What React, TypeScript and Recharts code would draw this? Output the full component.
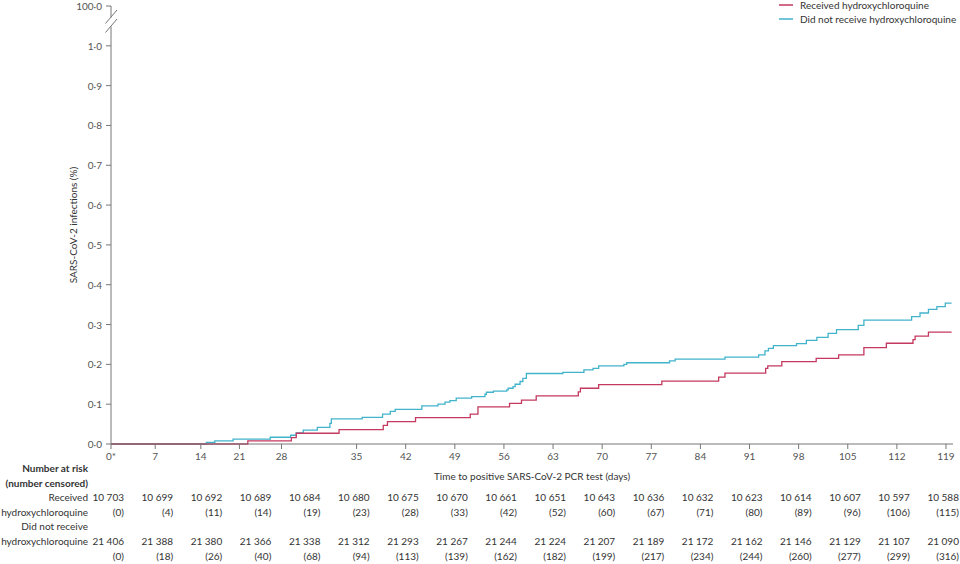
import { LineChart, Line, XAxis, YAxis, Legend } from "recharts";

const FONT = "Lato, 'DejaVu Sans', sans-serif";
const TEXT = "#333";
const AXIS = "#777";

const seriesNames = ["Received hydroxychloroquine", "Did not receive hydroxychloroquine"];
const seriesColors = ["#c4395f", "#41b3cb"];

// Kaplan-Meier steps: day of event, cumulative infections (%)
const receivedDays = [0, 19.5, 25.7, 26.4, 32.5, 38.8, 39.4, 43.4, 51.2, 52.3, 56.8, 58.5, 60.6, 66.6, 66.9, 69.5, 78.5, 86.6, 87.5, 93.3, 93.6, 95.6, 100.5, 103.7, 107.3, 110.5, 114.3, 114.6, 116.5, 119.8];
const receivedPct = [0, 0.008, 0.016, 0.027, 0.036, 0.047, 0.056, 0.066, 0.075, 0.093, 0.102, 0.11, 0.121, 0.131, 0.14, 0.149, 0.158, 0.168, 0.178, 0.19, 0.196, 0.207, 0.215, 0.224, 0.242, 0.253, 0.262, 0.271, 0.281, 0.281];

const notReceivedDays = [0, 13.6, 14.8, 17.4, 22.7, 25.6, 26.4, 27.4, 29.4, 31.2, 31.4, 35.8, 38.7, 39.8, 40.5, 44.3, 46.6, 47.6, 48.3, 49.2, 51.4, 53.3, 53.5, 54.5, 56.4, 56.6, 57.3, 57.6, 58.3, 58.7, 59.2, 64.4, 67.4, 68.7, 69.5, 73.1, 73.5, 79.6, 80.4, 87.5, 92.3, 93.2, 93.7, 94.4, 97.7, 99.1, 100.6, 102.2, 103.4, 106.5, 107.3, 114.1, 115.3, 116.5, 117.7, 118.9, 119.8];
const notReceivedPct = [0, 0.004, 0.008, 0.012, 0.017, 0.022, 0.028, 0.035, 0.042, 0.052, 0.063, 0.067, 0.075, 0.082, 0.087, 0.096, 0.1, 0.105, 0.109, 0.115, 0.119, 0.125, 0.13, 0.133, 0.136, 0.14, 0.144, 0.15, 0.157, 0.165, 0.177, 0.18, 0.186, 0.19, 0.196, 0.2, 0.204, 0.209, 0.213, 0.218, 0.224, 0.234, 0.24, 0.247, 0.252, 0.26, 0.268, 0.278, 0.287, 0.298, 0.311, 0.32, 0.329, 0.338, 0.345, 0.354, 0.354];

// the printed x ticks for 7-28 sit off the linear scale in the original
const xTickDays = [0, 6.3, 12.8, 18.3, 24.3, 35, 42, 49, 56, 63, 70, 77, 84, 91, 98, 105, 112, 119];
const xTickLabels = ["0*", "7", "14", "21", "28", "35", "42", "49", "56", "63", "70", "77", "84", "91", "98", "105", "112", "119"];
const yTicks = [0, 0.1, 0.2, 0.3, 0.4, 0.5, 0.6, 0.7, 0.8, 0.9, 1.0, 1.1];

// number at risk table
const riskDays = [0, 7, 14, 21, 28, 35, 42, 49, 56, 63, 70, 77, 84, 91, 98, 105, 112, 119];
const receivedAtRisk = [10703, 10699, 10692, 10689, 10684, 10680, 10675, 10670, 10661, 10651, 10643, 10636, 10632, 10623, 10614, 10607, 10597, 10588];
const receivedCensored = [0, 4, 11, 14, 19, 23, 28, 33, 42, 52, 60, 67, 71, 80, 89, 96, 106, 115];
const notReceivedAtRisk = [21406, 21388, 21380, 21366, 21338, 21312, 21293, 21267, 21244, 21224, 21207, 21189, 21172, 21162, 21146, 21129, 21107, 21090];
const notReceivedCensored = [0, 18, 26, 40, 68, 94, 113, 139, 162, 182, 199, 217, 234, 244, 260, 277, 299, 316];

const toPoints = (days: number[], pct: number[]) => days.map((d, i) => ({ day: d, pct: pct[i] }));
const receivedData = toPoints(receivedDays, receivedPct);
const notReceivedData = toPoints(notReceivedDays, notReceivedPct);

const fmtCount = (n: number) => `${Math.floor(n / 1000)} ${String(n % 1000).padStart(3, "0")}`;

function YTick(props: any) {
  const { x, y, payload } = props;
  const v = payload.value as number;
  const top = v > 1.05;
  const label = top ? "100·0" : v.toFixed(1).replace(".", "·");
  const ax = x + 9;
  return (
    <g>
      <text x={x} y={y} textAnchor="end" dominantBaseline="central" fontSize={10} fill="#555" fontFamily={FONT}>
        {label}
      </text>
      {top && (
        <g stroke={AXIS} strokeWidth={1}>
          {/* axis break: mask the axis line and draw the two slashes */}
          <rect x={ax - 3} y={y + 11.5} width={6} height={9} fill="#fff" stroke="none" />
          <line x1={ax - 5.5} y1={y + 17.5} x2={ax + 6} y2={y + 4} />
          <line x1={ax - 5.5} y1={y + 26.5} x2={ax + 6} y2={y + 13} />
        </g>
      )}
    </g>
  );
}

function RiskTick(props: any) {
  const { x, y, payload } = props;
  const i = riskDays.indexOf(payload.value);
  if (i < 0) return null;
  const tx = x + 13;
  const rows: [number, string][] = [
    [13, fmtCount(receivedAtRisk[i])],
    [28, `(${receivedCensored[i]})`],
    [57, fmtCount(notReceivedAtRisk[i])],
    [72, `(${notReceivedCensored[i]})`],
  ];
  return (
    <g>
      {rows.map(([dy, s], k) => (
        <text key={k} x={tx} y={y + dy} textAnchor="end" dominantBaseline="central" fontSize={10} fill={TEXT} fontFamily={FONT}>
          {s}
        </text>
      ))}
    </g>
  );
}

function RiskLabels(props: any) {
  const vb = props.viewBox;
  const lx = vb.x - 23;
  const rows: [number, string, boolean][] = [
    [-16, "Number at risk", true],
    [-1, "(number censored)", true],
    [13, "Received", false],
    [28, "hydroxychloroquine", false],
    [42, "Did not receive", false],
    [57, "hydroxychloroquine", false],
  ];
  return (
    <g>
      {rows.map(([dy, s, bold], k) => (
        <text key={k} x={lx} y={vb.y + dy} textAnchor="end" dominantBaseline="central" fontSize={10} fontWeight={bold ? 700 : 400} fill={TEXT} fontFamily={FONT}>
          {s}
        </text>
      ))}
    </g>
  );
}

function LegendBox(props: any) {
  const items = [...(props.payload || [])].sort(
    (a: any, b: any) => seriesNames.indexOf(a.value) - seriesNames.indexOf(b.value)
  );
  return (
    <svg width={184} height={28} style={{ display: "block" }}>
      {items.map((it: any, k: number) => (
        <g key={k}>
          <line x1={3} x2={17} y1={5 + k * 14} y2={5 + k * 14} stroke={it.color} strokeWidth={1.5} />
          <text x={24} y={5 + k * 14} dominantBaseline="central" fontSize={10} fill={TEXT} fontFamily={FONT}>
            {it.value}
          </text>
        </g>
      ))}
    </svg>
  );
}

export default function App() {
  return (
    <div style={{ position: "absolute", left: 0, top: 0, fontFamily: FONT, background: "#fff" }}>
      <LineChart width={960} height={564} margin={{ top: 6, right: 7, bottom: 0, left: 0 }}>
        <XAxis
          type="number"
          dataKey="day"
          domain={[0, 120]}
          ticks={xTickDays}
          interval={0}
          tickFormatter={(v: number) => xTickLabels[xTickDays.indexOf(v)] ?? ""}
          height={40}
          tickSize={5}
          tickMargin={4}
          stroke={AXIS}
          tick={{ fontSize: 10, fill: "#555" }}
          label={{
            content: (p: any) => (
              <text x={p.viewBox.x + p.viewBox.width / 2} y={p.viewBox.y + 32} textAnchor="middle" dominantBaseline="central" fontSize={10} fill={TEXT} fontFamily={FONT}>
                Time to positive SARS-CoV-2 PCR test (days)
              </text>
            ),
          }}
        />
        <XAxis
          xAxisId="risk"
          type="number"
          dataKey="day"
          domain={[0, 120]}
          allowDataOverflow
          ticks={riskDays}
          interval={0}
          height={80}
          axisLine={false}
          tickLine={false}
          tickSize={0}
          tickMargin={0}
          tick={<RiskTick />}
          label={{ content: (p: any) => <RiskLabels {...p} /> }}
        />
        <YAxis
          type="number"
          domain={[0, 1.1]}
          ticks={yTicks}
          interval={0}
          width={111}
          tickSize={5}
          tickMargin={4}
          stroke={AXIS}
          tick={<YTick />}
          label={{
            content: (p: any) => {
              const cx = p.viewBox.x + 73;
              const cy = p.viewBox.y + p.viewBox.height / 2;
              return (
                <text transform={`translate(${cx},${cy}) rotate(-90)`} textAnchor="middle" dominantBaseline="central" fontSize={10} fill={TEXT} fontFamily={FONT}>
                  SARS-CoV-2 infections (%)
                </text>
              );
            },
          }}
        />
        <Legend
          layout="vertical"
          align="center"
          verticalAlign="middle"
          content={<LegendBox />}
          wrapperStyle={{ top: 0, left: 776, right: "auto", bottom: "auto", width: 184, height: 28 }}
        />
        <Line
          data={notReceivedData}
          dataKey="pct"
          name={seriesNames[1]}
          type="stepAfter"
          stroke={seriesColors[1]}
          strokeWidth={1.3}
          dot={false}
          isAnimationActive={false}
        />
        <Line
          data={receivedData}
          dataKey="pct"
          name={seriesNames[0]}
          type="stepAfter"
          stroke={seriesColors[0]}
          strokeWidth={1.3}
          dot={false}
          isAnimationActive={false}
        />
      </LineChart>
    </div>
  );
}
